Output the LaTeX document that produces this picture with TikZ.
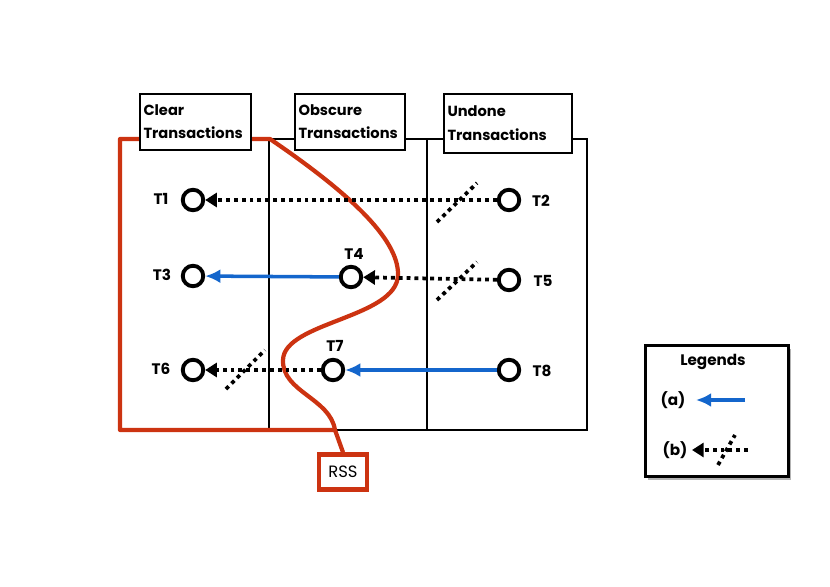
\documentclass[tikz,border=0pt]{standalone}
\usepackage{fontspec}
\setmainfont{Poppins}
\usetikzlibrary{arrows.meta, calc, shadows}

\definecolor{rssred}{RGB}{204,51,17}
\definecolor{clearblue}{RGB}{20,102,204}

\tikzset{
  txn/.style={circle, draw, line width=3.3pt, minimum size=17.5pt, inner sep=0pt},
  tlabel/.style={font=\bfseries\fontsize{13}{15}\selectfont},
  colhead/.style={draw, line width=1.7pt, fill=white, align=left, anchor=north west,
    inner xsep=3pt, inner ysep=0pt, minimum height=47.6pt, font=\bfseries\fontsize{12.5}{20}\selectfont},
  clearto/.style={-{Latex[length=13pt,width=12pt]}, clearblue, line width=3pt},
  obscureto/.style={-{Triangle[length=10pt,width=12pt]}, line width=3.2pt, dash pattern=on 3.3pt off 3.4pt},
  strike/.style={line width=3.2pt, dash pattern=on 3.3pt off 3.4pt},
}

\begin{document}
\begin{tikzpicture}[x=0.03cm, y=-0.03cm]
  \useasboundingbox (0,0) rectangle (830,587);

  % Table of transactions
  \draw[line width=1.9pt] (120,139) rectangle (587,430);
  \draw[line width=1.9pt] (269,139) -- (269,430);
  \draw[line width=1.9pt] (427,139) -- (427,430);

  % RSS boundary
  \node[draw=rssred, line width=3.6pt, inner sep=5pt, minimum width=41pt, minimum height=30pt,
    font=\fontsize{14}{16}\selectfont] (rss) at (343,472) {RSS};
  \draw[rssred, line width=3.6pt, line join=round]
    (rss.north) -- (335,430)
    .. controls (330,398) and (282,392) .. (283,360)
    .. controls (284,322) and (397,318) .. (398,275)
    .. controls (399,238) and (345,190) .. (270,139)
    -- (120,139) -- (120,430) -- (335,430);

  % Column headers
  \node[colhead, text width=89pt] (clear) at (139,93) {Clear\\Transactions};
  \node[colhead, text width=88pt] (obscure) at (294,93) {Obscure\\Transactions};
  \node[colhead, text width=103pt, minimum height=50pt] (undone) at (443,93) {Undone\\Transactions};

  % Transactions
  \node[txn] (t1) at (193,200) {};
  \node[txn] (t2) at (509,200) {};
  \node[txn] (t3) at (193,276) {};
  \node[txn] (t4) at (351,277) {};
  \node[txn] (t5) at (509,280) {};
  \node[txn] (t6) at (193,370) {};
  \node[txn] (t7) at (333,370) {};
  \node[txn] (t8) at (509,370) {};

  \node[tlabel] at (161,199) {T1};
  \node[tlabel] at (541,201) {T2};
  \node[tlabel] at (162,275) {T3};
  \node[tlabel] at (354,254) {T4};
  \node[tlabel] at (543,281) {T5};
  \node[tlabel] at (161,369) {T6};
  \node[tlabel] at (335,346) {T7};
  \node[tlabel] at (542,371) {T8};

  % Dependencies
  \draw[obscureto] (t2) -- (t1);
  \draw[strike] (437,222) -- (477,183);
  \draw[clearto] (t4) -- (t3);
  \draw[obscureto] (t5) -- (t4);
  \draw[strike] (437,300) -- (477,262);
  \draw[obscureto] (t7) -- (t6);
  \draw[strike] (226,389) -- (265,350);
  \draw[clearto] (t8) -- (t7);

  % Legends
  \node[draw, line width=1.9pt, fill=white, drop shadow={opacity=0.6, shadow xshift=2pt, shadow yshift=-3pt},
    minimum width=122pt, minimum height=112pt] (legend) at (717,411) {};
  \node[tlabel] (legtitle) at (713,362) {Legends};
  \node[tlabel] (lega) at (673,400) {(a)};
  \node[tlabel] (legb) at (675,450) {(b)};
  \coordinate (a1) at (745,400);
  \coordinate (a2) at (696,400);
  \coordinate (b1) at (748,450);
  \coordinate (b2) at (692,450);
  \draw[clearto] (a1) -- (a2);
  \draw[obscureto] (b1) -- (b2);
  \draw[strike] (718,465) -- (735,435);
\end{tikzpicture}
\end{document}
